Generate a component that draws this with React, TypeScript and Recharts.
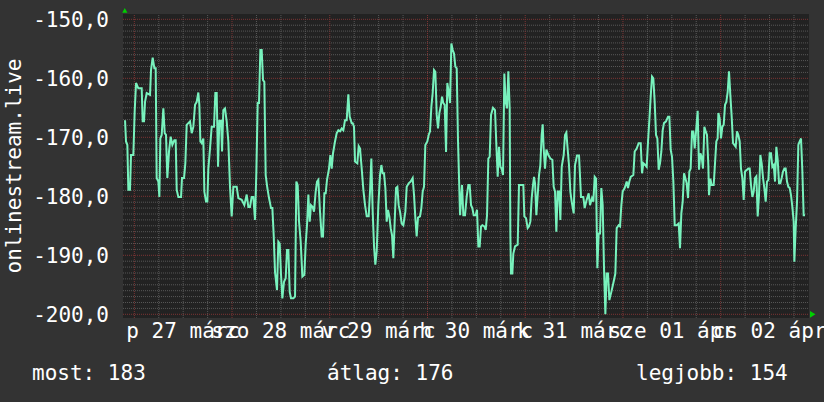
import React from 'react';
import { LineChart, Line, XAxis, YAxis, CartesianGrid, ReferenceDot, ReferenceLine } from 'recharts';

// hours since 27 márc 00:00
const hours = [
  -2.28, -2.04, -1.71, -1.47, -1.06, -0.81, -0.24, 0.09,
  0.42, 0.99, 1.81, 2.05, 2.38, 2.63, 3.04, 3.86,
  4.10, 4.51, 4.92, 5.25, 5.49, 5.90, 6.15, 6.39,
  6.72, 7.13, 7.46, 7.78, 8.11, 8.52, 8.93, 9.34,
  9.83, 10.16, 10.41, 10.81, 11.47, 11.71, 12.21, 12.53,
  12.86, 13.27, 13.68, 14.09, 14.50, 14.91, 15.32, 15.72,
  15.97, 16.22, 16.54, 16.95, 17.20, 17.61, 17.93, 18.18,
  18.59, 19.00, 19.57, 19.90, 20.23, 20.56, 20.88, 21.29,
  21.54, 21.86, 22.27, 22.68, 23.09, 23.50, 23.91, 24.32,
  25.14, 25.55, 26.37, 27.02, 27.60, 28.00, 28.41, 28.82,
  29.23, 29.64, 29.97, 30.30, 30.62, 30.95, 31.28, 31.61,
  31.93, 32.26, 32.67, 33.08, 33.57, 33.90, 34.23, 34.55,
  35.04, 35.37, 35.70, 36.03, 36.35, 36.76, 37.17, 37.50,
  37.83, 38.16, 38.48, 39.06, 39.47, 39.79, 40.12, 40.45,
  40.86, 41.27, 41.76, 42.09, 42.41, 42.74, 43.07, 43.39,
  43.80, 44.13, 44.54, 44.87, 45.19, 45.60, 46.01, 46.34,
  46.67, 47.00, 47.32, 47.81, 48.14, 48.47, 48.80, 49.29,
  49.70, 50.11, 50.52, 50.93, 51.33, 51.74, 52.15, 52.56,
  52.89, 53.38, 53.63, 53.95, 54.20, 54.77, 55.10, 55.43,
  55.84, 56.25, 56.66, 57.07, 57.56, 57.88, 58.21, 58.54,
  58.87, 59.19, 59.52, 59.93, 60.34, 60.67, 61.00, 61.32,
  61.65, 61.98, 62.30, 62.63, 62.96, 63.29, 63.61, 63.94,
  64.27, 64.60, 64.92, 65.25, 65.66, 66.07, 66.56, 66.89,
  67.38, 67.87, 68.36, 68.69, 69.02, 69.34, 69.67, 70.16,
  70.49, 70.82, 71.14, 71.47, 71.96, 72.29, 72.62, 72.95,
  73.27, 73.60, 73.93, 74.26, 74.58, 74.91, 75.24, 75.57,
  75.89, 76.22, 76.55, 76.87, 77.20, 77.53, 77.86, 78.19,
  78.51, 78.84, 79.17, 79.49, 79.99, 80.48, 80.80, 81.21,
  81.62, 82.03, 82.36, 82.69, 83.01, 83.34, 83.83, 84.16,
  84.49, 84.82, 85.14, 85.47, 85.96, 86.29, 86.62, 86.94,
  87.27, 87.60, 88.09, 88.58, 88.91, 89.24, 89.56, 89.89,
  90.22, 90.55, 90.87, 91.20, 91.53, 91.85, 92.18, 92.35,
  92.51, 92.84, 93.08, 93.49, 94.15, 94.47, 95.13, 95.54,
  95.78, 96.19, 96.60, 96.93, 97.26, 97.59, 97.91, 98.16,
  98.41, 98.73, 99.06, 99.39, 99.71, 100.04, 100.29, 100.53,
  100.86, 101.19, 101.68, 102.17, 102.66, 102.99, 103.32, 103.64,
  103.97, 104.30, 104.63, 104.96, 105.45, 105.77, 106.10, 106.43,
  106.75, 107.08, 107.41, 107.90, 108.23, 108.72, 109.21, 109.70,
  110.27, 110.60, 111.09, 111.58, 111.91, 112.40, 112.73, 113.06,
  113.39, 113.71, 114.04, 114.37, 114.69, 115.02, 115.35, 115.68,
  116.00, 116.33, 116.66, 117.15, 117.64, 118.13, 118.46, 118.95,
  119.28, 119.61, 119.93, 120.42, 120.92, 121.24, 121.57, 121.90,
  122.55, 122.88, 123.37, 123.86, 124.36, 124.68, 125.01, 125.50,
  125.83, 126.16, 126.48, 126.81, 127.14, 127.46, 127.79, 128.12,
  128.45, 128.77, 129.10, 129.43, 129.76, 130.08, 130.58, 131.07,
  131.40, 131.72, 132.05, 132.38, 132.71, 133.20, 133.69, 134.01,
  134.34, 134.67, 135.00, 135.32, 135.65, 135.98, 136.30, 136.63,
  136.96, 137.29, 137.62, 138.35, 138.68, 139.01, 139.33, 139.66,
  139.99, 140.32, 140.64, 140.97, 141.13, 141.46, 141.79, 142.28,
  142.61, 142.93, 143.26, 143.43, 143.75, 144.08, 144.41, 144.74,
  145.07, 145.39, 145.72, 146.05, 146.37, 146.70, 147.03, 147.36,
  147.69, 148.01, 148.34, 148.67, 148.99, 149.32, 149.65, 149.98,
  150.47, 150.79, 151.12, 151.45, 151.78, 152.11, 152.43, 152.76,
  153.09, 153.41, 153.74, 154.07, 154.40, 154.72, 155.05, 155.38,
  155.71, 156.03, 156.36, 156.69, 157.02, 157.35, 157.67, 158.00,
  158.33, 158.65, 158.98, 159.31, 159.64, 159.96, 160.29, 160.62,
  160.95, 161.27, 161.60, 161.93, 162.09, 162.42, 162.75, 163.07,
  163.40, 163.73, 164.06, 164.38, 164.71,
];

const values = [
  -167.1, -170.7, -171.3, -178.9, -178.9, -173.0, -173.0, -165.6,
  -160.8, -161.7, -161.7, -167.3, -167.3, -164.0, -162.5, -162.8,
  -158.6, -156.5, -158.3, -158.3, -176.9, -177.5, -180.1, -170.2,
  -169.6, -165.1, -169.3, -169.6, -176.9, -172.4, -169.9, -171.3,
  -170.5, -170.5, -178.9, -180.1, -180.1, -176.9, -176.9, -174.4,
  -167.9, -167.6, -167.3, -169.3, -168.2, -164.5, -164.0, -162.4,
  -164.5, -170.7, -171.0, -170.2, -179.2, -180.9, -180.9, -175.3,
  -171.9, -168.2, -168.2, -162.5, -162.5, -175.0, -167.2, -167.2,
  -172.4, -165.4, -165.1, -167.3, -170.7, -178.4, -183.4, -178.4,
  -178.4, -180.3, -180.6, -181.5, -179.7, -181.8, -181.8, -180.1,
  -180.1, -184.0, -175.8, -164.2, -164.2, -155.2, -155.2, -160.3,
  -160.6, -176.4, -178.6, -180.3, -182.0, -182.0, -186.6, -192.8,
  -195.9, -187.7, -188.0, -193.3, -197.3, -194.5, -193.9, -189.1,
  -189.1, -196.2, -197.3, -197.3, -197.0, -177.5, -178.1, -184.3,
  -187.7, -193.6, -193.3, -188.0, -184.9, -179.7, -184.3, -181.5,
  -181.8, -182.6, -179.2, -177.5, -177.2, -182.6, -186.8, -186.8,
  -179.5, -179.5, -177.2, -175.3, -173.0, -175.3, -172.7, -170.7,
  -169.3, -168.8, -169.0, -168.5, -168.8, -167.1, -167.1, -162.7,
  -166.5, -167.6, -167.6, -168.2, -174.1, -174.4, -171.5, -171.9,
  -175.3, -178.9, -181.5, -183.4, -183.4, -179.2, -173.6, -182.6,
  -188.5, -191.6, -189.4, -181.5, -176.4, -174.7, -176.1, -176.1,
  -178.6, -184.3, -182.3, -183.4, -185.4, -186.6, -190.5, -184.3,
  -178.6, -178.4, -181.5, -182.6, -184.6, -184.9, -182.6, -178.4,
  -177.8, -177.5, -176.9, -179.8, -183.7, -186.8, -183.6, -183.4,
  -182.0, -179.2, -178.4, -171.3, -170.7, -169.6, -169.0, -164.8,
  -162.5, -158.6, -158.9, -166.2, -168.5, -165.9, -164.8, -163.1,
  -164.2, -164.5, -172.5, -160.8, -162.3, -164.2, -154.1, -155.2,
  -155.8, -158.0, -158.3, -170.5, -183.2, -178.1, -183.2, -183.2,
  -180.1, -178.1, -178.1, -181.5, -182.0, -183.2, -183.2, -182.3,
  -188.5, -188.5, -185.1, -184.9, -185.1, -185.7, -183.2, -173.6,
  -173.3, -166.2, -165.0, -165.4, -171.3, -176.7, -171.6, -175.0,
  -175.3, -176.4, -159.2, -164.0, -165.1, -158.8, -165.1, -186.6,
  -193.1, -193.1, -189.7, -188.5, -188.2, -178.1, -178.1, -178.1,
  -183.4, -183.7, -185.4, -185.1, -184.3, -180.3, -178.1, -176.7,
  -177.8, -183.2, -179.8, -176.4, -174.7, -169.6, -167.8, -171.9,
  -175.3, -172.1, -173.0, -173.6, -173.8, -178.4, -179.2, -186.0,
  -179.2, -179.2, -184.0, -175.0, -173.0, -169.6, -169.2, -172.1,
  -174.7, -179.2, -180.9, -182.9, -174.7, -173.1, -173.1, -180.1,
  -180.1, -182.0, -180.6, -179.5, -181.5, -180.3, -180.9, -176.7,
  -177.0, -192.2, -186.3, -186.3, -178.6, -181.5, -192.2, -200.0,
  -193.1, -193.1, -197.6, -196.2, -194.7, -193.1, -185.4, -184.9,
  -185.1, -181.5, -179.2, -178.6, -177.5, -178.6, -177.5, -176.7,
  -176.4, -172.4, -171.9, -171.0, -171.0, -176.1, -174.4, -174.7,
  -175.0, -170.7, -167.1, -163.1, -159.7, -160.0, -164.0, -169.6,
  -170.2, -175.5, -174.4, -172.4, -168.8, -167.6, -167.3, -166.5,
  -166.5, -172.1, -173.3, -177.5, -184.9, -184.9, -184.6, -188.8,
  -182.9, -180.9, -176.1, -176.9, -177.8, -180.3, -175.8, -175.3,
  -169.0, -169.0, -171.9, -165.5, -175.5, -172.7, -173.3, -175.3,
  -168.2, -169.0, -169.6, -174.7, -179.8, -177.0, -178.1, -178.1,
  -174.4, -170.7, -170.2, -165.9, -166.8, -170.2, -168.2, -167.9,
  -164.5, -164.0, -162.3, -158.8, -162.8, -166.5, -171.0, -171.3,
  -171.6, -169.0, -169.6, -170.7, -175.3, -176.9, -180.6, -175.8,
  -175.5, -175.3, -175.3, -178.1, -180.1, -179.2, -176.9, -176.6,
  -183.4, -179.8, -173.0, -174.4, -176.9, -178.6, -180.9, -177.5,
  -177.2, -172.7, -172.7, -175.0, -174.7, -177.5, -171.6, -173.8,
  -177.8, -177.8, -176.9, -175.8, -175.3, -175.3, -177.5, -178.4,
  -178.6, -179.8, -181.8, -184.3, -191.1, -185.4, -180.9, -171.3,
  -170.7, -170.2, -175.8, -183.2, -183.2,
];

const yTicks = [-200, -190, -180, -170, -160, -150];
const dayTicks = [12, 36, 60, 84, 108, 132, 156];
const dayLabels = ['p 27 márc', 'szo 28 márc', 'v 29 márc', 'h 30 márc', 'k 31 márc', 'sze 01 ápr', 'cs 02 ápr'];
const summaryLabels = ['most', 'átlag', 'legjobb'];
const summaryValues = [183, 176, 154];
const seriesName = 'onlinestream.live';

const X_DOMAIN: [number, number] = [-2.78, 165.69];
const Y_DOMAIN: [number, number] = [-200.63, -149.1];

const FONT = '"DejaVu Sans Mono", monospace';
const TEXT = '#ffffff';
const MINOR = '#575757';
const MAJOR = '#7d3434';

const data = hours.map((h, i) => ({ h, v: values[i] }));

const minorY = Array.from({ length: 51 }, (_, i) => -200 + i).filter((v) => v % 10 !== 0);
const minorX = Array.from({ length: 28 }, (_, i) => i * 6).filter((v) => v % 24 !== 0);
const majorX = [0, 24, 48, 72, 96, 120, 144];

const UpArrow = (p: any) => (
  <polygon
    points={`${p.cx + 1.8},${p.cy - 6} ${p.cx - 0.8},${p.cy - 1.3} ${p.cx + 4.4},${p.cy - 1.3}`}
    fill="#00d000"
  />
);

const RightArrow = (p: any) => (
  <polygon
    points={`${p.cx + 1},${p.cy - 3.4} ${p.cx + 1},${p.cy + 3.4} ${p.cx + 6.5},${p.cy}`}
    fill="#00d000"
  />
);

const renderYLabel = (props: any) => {
  const vb = props.viewBox || {};
  const cy = (vb.y ?? 14) + (vb.height ?? 304) / 2;
  return (
    <text
      x={21}
      y={cy}
      transform={`rotate(-90, 21, ${cy})`}
      textAnchor="middle"
      fill={TEXT}
      fontSize={21}
      fontFamily={FONT}
    >
      {seriesName}
    </text>
  );
};

export default function App() {
  return (
    <div style={{ position: 'absolute', left: 0, top: 0, width: 824, height: 402, background: '#333333' }}>
      <LineChart
        width={824}
        height={402}
        data={data}
        margin={{ top: 14, right: 15, bottom: 0, left: 0 }}
      >
        <CartesianGrid horizontal={false} vertical={false} fill="#222222" fillOpacity={1} />
        {minorY.map((v) => (
          <ReferenceLine key={`my${v}`} y={v} stroke={MINOR} strokeDasharray="1 1" />
        ))}
        {minorX.map((v) => (
          <ReferenceLine key={`mx${v}`} x={v} stroke={MINOR} strokeDasharray="1 1" />
        ))}
        {yTicks.map((v) => (
          <ReferenceLine key={`Y${v}`} y={v} stroke={MAJOR} strokeDasharray="1 1" />
        ))}
        {majorX.map((v) => (
          <ReferenceLine key={`X${v}`} x={v} stroke={MAJOR} strokeDasharray="1 1" />
        ))}
        <XAxis
          type="number"
          dataKey="h"
          domain={X_DOMAIN}
          allowDataOverflow
          ticks={dayTicks}
          interval={0}
          tickFormatter={(v: number) => dayLabels[dayTicks.indexOf(v)]}
          tickLine={false}
          axisLine={false}
          tickSize={0}
          tickMargin={5}
          height={84}
          tick={{ fill: TEXT, fontSize: 21, fontFamily: FONT }}
        />
        <YAxis
          type="number"
          domain={Y_DOMAIN}
          allowDataOverflow
          ticks={yTicks}
          interval={0}
          tickFormatter={(v: number) => v.toFixed(1).replace('.', ',')}
          tickLine={false}
          axisLine={false}
          tickSize={0}
          tickMargin={14}
          width={123}
          tick={{ fill: TEXT, fontSize: 21, fontFamily: FONT }}
          label={renderYLabel}
        />
        <Line
          type="linear"
          dataKey="v"
          stroke="#78f2bd"
          strokeWidth={2}
          dot={false}
          activeDot={false}
          isAnimationActive={false}
        />
        <ReferenceDot x={X_DOMAIN[0]} y={Y_DOMAIN[1]} r={0} ifOverflow="visible" shape={UpArrow} />
        <ReferenceDot x={X_DOMAIN[1]} y={-200} r={0} ifOverflow="visible" shape={RightArrow} />
      </LineChart>
      <svg
        width={824}
        height={402}
        style={{ position: 'absolute', left: 0, top: 0, pointerEvents: 'none' }}
      >
        {summaryLabels.map((label, i) => (
          <text
            key={label}
            x={[32, 327, 636][i]}
            y={380}
            fill={TEXT}
            fontSize={21}
            fontFamily={FONT}
          >
            {`${label}: ${summaryValues[i]}`}
          </text>
        ))}
      </svg>
    </div>
  );
}
